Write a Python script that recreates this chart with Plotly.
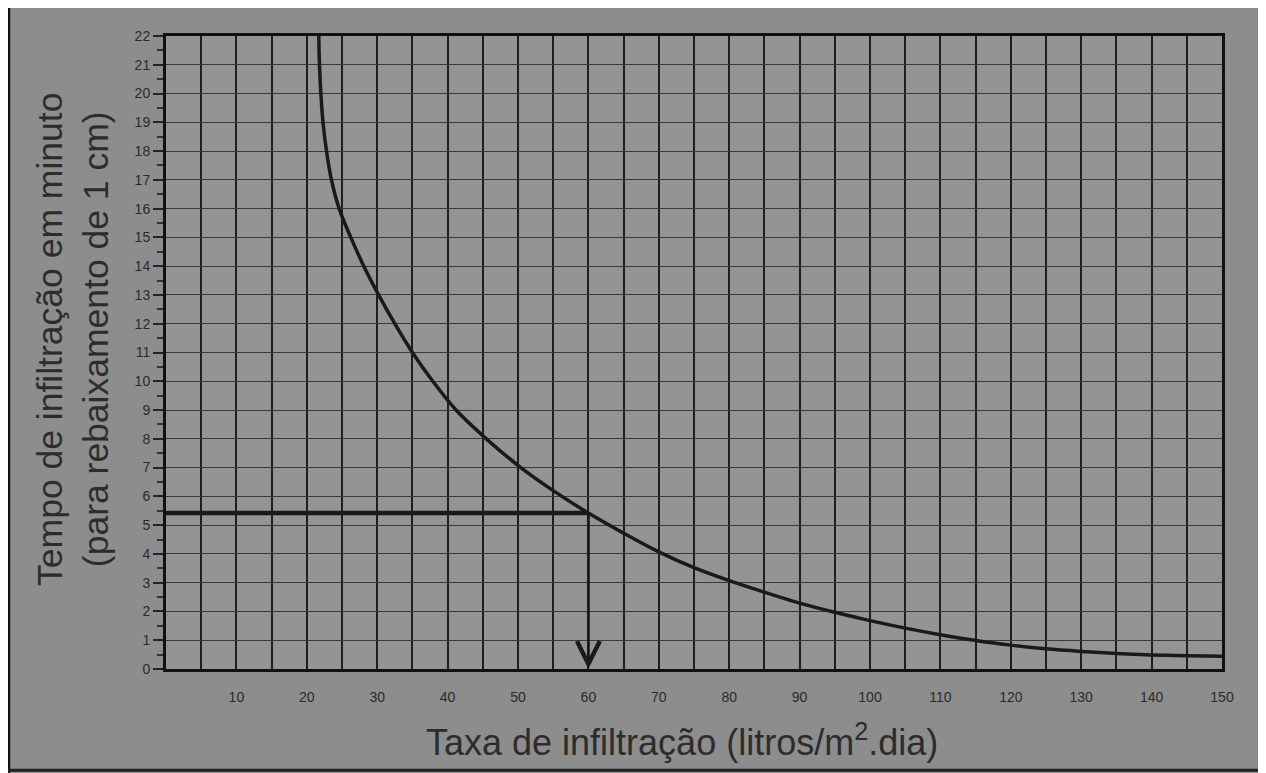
import plotly.graph_objects as go

# Curve data
taxa = [21.7, 21.8, 22.0, 22.3, 22.8, 23.5, 24.6, 26.25, 28.1, 30.2, 32.5, 35.0, 37.9,
        41.2, 45.5, 50.4, 55, 60, 65, 70, 75, 80, 85, 90, 95, 100, 105, 110,
        115, 120, 125, 130, 135, 140, 145, 150]
tempo = [22.0, 21.0, 20.0, 19.0, 18.0, 17.0, 16.0, 15.0, 14.0, 13.0, 12.0, 11.0, 10.0,
         9.0, 8.0, 7.0, 6.2, 5.42, 4.72, 4.07, 3.52, 3.07, 2.67, 2.29, 1.97, 1.68,
         1.42, 1.19, 0.99, 0.83, 0.7, 0.61, 0.54, 0.49, 0.46, 0.44]

# Reading example
leitura_x = 60
leitura_y = 5.42

x_ticks = [10, 20, 30, 40, 50, 60, 70, 80, 90, 100, 110, 120, 130, 140, 150]
y_ticks = list(range(0, 23))

ink = "#1a1a1a"
txt = "#2a2a2a"
font_fam = "Liberation Sans, Arial, sans-serif"

fig = go.Figure()
fig.add_trace(go.Scatter(x=taxa, y=tempo, mode="lines",
                         line=dict(color=ink, width=3.5, shape="spline", smoothing=1.0),
                         hoverinfo="skip", showlegend=False))
fig.add_trace(go.Scatter(x=[0, leitura_x], y=[leitura_y, leitura_y], mode="lines",
                         line=dict(color=ink, width=4.5),
                         hoverinfo="skip", showlegend=False))
fig.add_annotation(x=leitura_x, y=0, ax=leitura_x, ay=leitura_y,
                   xref="x", yref="y", axref="x", ayref="y",
                   showarrow=True, arrowhead=5, arrowsize=1.6, arrowwidth=2.8,
                   arrowcolor=ink, text="")

# axis titles placed as annotations
fig.add_annotation(text="Tempo de infiltração em minuto<br>(para rebaixamento de 1 cm)",
                   xref="paper", yref="paper", x=-0.088, y=0.52,
                   xanchor="center", yanchor="middle", textangle=-90, showarrow=False,
                   font=dict(size=35.5, color="#2c2c2c", family=font_fam))
fig.add_annotation(text="Taxa de infiltração (litros/m<sup>2</sup>.dia)",
                   xref="paper", yref="paper", x=0.489, y=-0.112,
                   xanchor="center", yanchor="middle", showarrow=False,
                   font=dict(size=36, color="#2c2c2c", family=font_fam))

fig.update_layout(
    width=1258, height=765,
    margin=dict(l=158, r=44, t=28, b=104),
    paper_bgcolor="#8d8d8d",
    plot_bgcolor="#949494",
    font=dict(family=font_fam, color=txt),
    xaxis=dict(
        range=[0, 150], tickvals=x_ticks, ticktext=[str(v) for v in x_ticks],
        ticks="outside", ticklen=13, tickcolor="rgba(0,0,0,0)",
        tickfont=dict(size=14, color=txt),
        showgrid=True, gridcolor="#1e1e1e", gridwidth=2,
        minor=dict(dtick=5, tick0=0, showgrid=True, gridcolor="#1e1e1e", gridwidth=2),
        showline=True, linecolor="#111", linewidth=3, mirror=True,
        zeroline=False,
    ),
    yaxis=dict(
        range=[0, 22], tickvals=y_ticks, ticktext=[str(v) for v in y_ticks],
        ticks="outside", ticklen=10, tickcolor="#222", tickwidth=1.5,
        tickfont=dict(size=14, color=txt),
        showgrid=True, gridcolor="#3a3a3a", gridwidth=1.3,
        minor=dict(dtick=0.5, ticks="outside", ticklen=6, tickcolor="#333", showgrid=False),
        showline=True, linecolor="#111", linewidth=3, mirror=True,
        zeroline=False,
    ),
)

# scan frame edges
fig.add_shape(type="line", xref="paper", yref="paper", x0=-0.1487, x1=-0.1487, y0=-0.2, y1=1.06,
              line=dict(color="#111", width=2.5))
fig.add_shape(type="rect", xref="paper", yref="paper", x0=1.034, x1=1.06, y0=-0.2, y1=1.06,
              fillcolor="#2a2a2a", line=dict(width=0))
fig.add_shape(type="line", xref="paper", yref="paper", x0=-0.15, x1=1.06, y0=-0.16, y1=-0.16,
              line=dict(color="#222", width=3))

fig.write_html("out.html")
